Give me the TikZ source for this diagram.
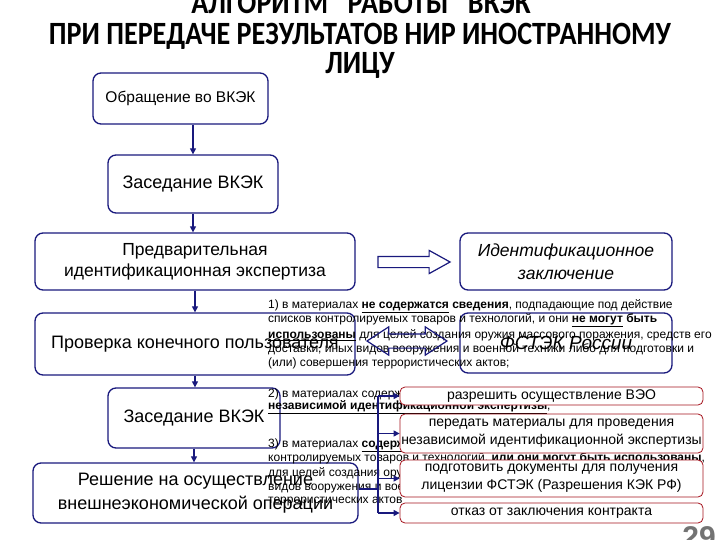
\documentclass[tikz,border=0pt]{standalone}
\usepackage{fontspec}
\setmainfont{Liberation Sans}
\newfontfamily\titlefont{Carlito}
\usetikzlibrary{shapes.arrows,arrows.meta}
\definecolor{navy}{RGB}{25,25,125}
\definecolor{dred}{RGB}{165,20,30}
\definecolor{pgnum}{RGB}{115,115,115}
\newcommand{\fs}[2]{\fontsize{#1}{#2}\selectfont}
\newcommand{\tstretch}[1]{\scalebox{0.97}[1.12]{#1}}
\begin{document}
\begin{tikzpicture}[x=1pt,y=-1pt,
  box/.style={draw=navy, line width=1.3pt, rounded corners=8pt, fill=white, align=center, inner sep=0pt},
  rbox/.style={draw=dred, line width=0.8pt, rounded corners=5pt, fill=white, align=center, inner sep=0pt, minimum width=303pt, font=\fs{14}{18}},
  arr/.style={draw=navy, line width=1.2pt, -{Triangle[length=6pt,width=6pt]}},
  bline/.style={draw=navy, line width=1.2pt},
  para/.style={anchor=west, inner sep=0pt, font=\fs{12}{14}},
  ttl/.style={anchor=base, inner sep=0pt, font=\titlefont\bfseries\fs{29}{30}},
]
\useasboundingbox (0,0) rectangle (720,540);

% title
\node[ttl] (t1) at (361,14) {\tstretch{АЛГОРИТМ\hspace{20pt}РАБОТЫ\hspace{20pt}ВКЭК}};
\node[ttl] (t2) at (360,45) {\tstretch{ПРИ ПЕРЕДАЧЕ РЕЗУЛЬТАТОВ НИР ИНОСТРАННОМУ}};
\node[ttl] (t3) at (360,74) {\tstretch{ЛИЦУ}};

% left column
\node[box, minimum width=175pt, minimum height=51pt, font=\fs{15.5}{18}] (b1) at (180.5,98.5) {Обращение во ВКЭК};
\node[box, minimum width=170pt, minimum height=58pt, font=\fs{18}{21}] (b2) at (193,184) {Заседание ВКЭК};
\node[box, minimum width=320pt, minimum height=57pt, font=\fs{17.5}{21}] (b3) at (195,261.5) {Предварительная\\идентификационная экспертиза};
\node[box, minimum width=212pt, minimum height=57pt, font=\itshape\fs{17.5}{23}] (b4) at (566,261.5) {Идентификационное\\заключение};
\node[box, minimum width=320pt, minimum height=62pt, font=\fs{18}{21}] (b5) at (195,344) {Проверка конечного пользователя};
\node[box, minimum width=212pt, minimum height=60pt, font=\itshape\fs{19}{22}] (b6) at (566,343) {ФСТЭК России};
\node[box, minimum width=172pt, minimum height=60pt, font=\fs{18}{21}] (b7) at (194,418) {Заседание ВКЭК};
\node[box, minimum width=325pt, minimum height=60pt, font=\fs{18}{24}] (b8) at (195.5,493) {Решение на осуществление\\внешнеэкономической операции};

% vertical arrows
\draw[arr] (b1.south -| b2.north) -- (b2.north);
\draw[arr] (b2.south) -- (b2.south |- b3.north);
\draw[arr] (b3.south) -- (b5.north);
\draw[arr] (b5.south) -- (b5.south |- b7.north);
\draw[arr] (b7.south) -- (b7.south |- b8.north);

% hollow arrow between b3 and b4
\node[single arrow, draw=navy, line width=1.2pt, fill=white, minimum height=72pt, minimum width=23pt,
      single arrow head extend=6pt, single arrow tip angle=58, inner sep=5pt] (ha) at (409,262) {};

% paragraph 1
\node[para] (p11) at (268,306) {1) в материалах \textbf{\underline{не содержатся} сведения}, подпадающие под действие};
\node[para] (p12) at (268,320.5) {списков контролируемых товаров и технологий, и они \textbf{\underline{не могут} быть}};
\node[para] (p13) at (268,335) {\textbf{\underline{использованы}} для целей создания оружия массового поражения, средств его};
\node[para] (p14) at (268,349) {доставки, иных видов вооружения и военной техники либо для подготовки и};
\node[para] (p15) at (268,363.5) {(или) совершения террористических актов;};

% paragraph 2
\node[para] (p21) at (268,394) {2) в материалах содержатся};
\node[para] (p22) at (268,407.5) {\textbf{\underline{независимой идентификационной экспертизы}},};

% paragraph 3
\node[para] (p31) at (268,445) {3) в материалах \textbf{\underline{содержатся}}};
\node[para] (p32) at (268,459) {контролируемых товаров и технологий, \textbf{\underline{или они могут быть использованы}},};
\node[para] (p33) at (268,473) {для целей создания оружия};
\node[para] (p34) at (268,487) {видов вооружения и военной};
\node[para] (p35) at (268,502) {террористических актов};

% double arrow between b5 and b6
\node[double arrow, draw=navy, line width=1.2pt, minimum height=80pt, minimum width=27pt,
      double arrow head extend=7pt, double arrow tip angle=66, inner sep=6.5pt] (da) at (407,341) {};

% red boxes
\node[rbox, minimum height=18pt] (r1) at (551.5,396) {разрешить осуществление ВЭО};
\node[rbox, minimum height=39pt] (r2) at (551.5,433.5) {передать материалы для проведения\\независимой идентификационной экспертизы};
\node[rbox, minimum height=37pt] (r3) at (551.5,478.5) {подготовить документы для получения\\лицензии ФСТЭК (Разрешения КЭК РФ)};
\node[rbox, minimum height=20pt] (r4) at (551.5,513) {отказ от заключения контракта};

% branching connectors
\coordinate (bus) at (378,489);
\draw[bline] (bus -| b8.east) -- (bus);
\draw[bline] (r1.west -| bus) -- (r4.west -| bus);
\draw[arr] (r1.west -| bus) -- (r1.west);
\draw[arr] (r2.west -| bus) -- (r2.west);
\draw[arr] (r3.west -| bus) -- (r3.west);
\draw[arr] (r4.west -| bus) -- (r4.west);

% page number
\node[anchor=base, inner sep=0pt, text=pgnum, font=\bfseries\fs{30}{32}] (pg) at (699,547) {29};
\end{tikzpicture}
\end{document}
